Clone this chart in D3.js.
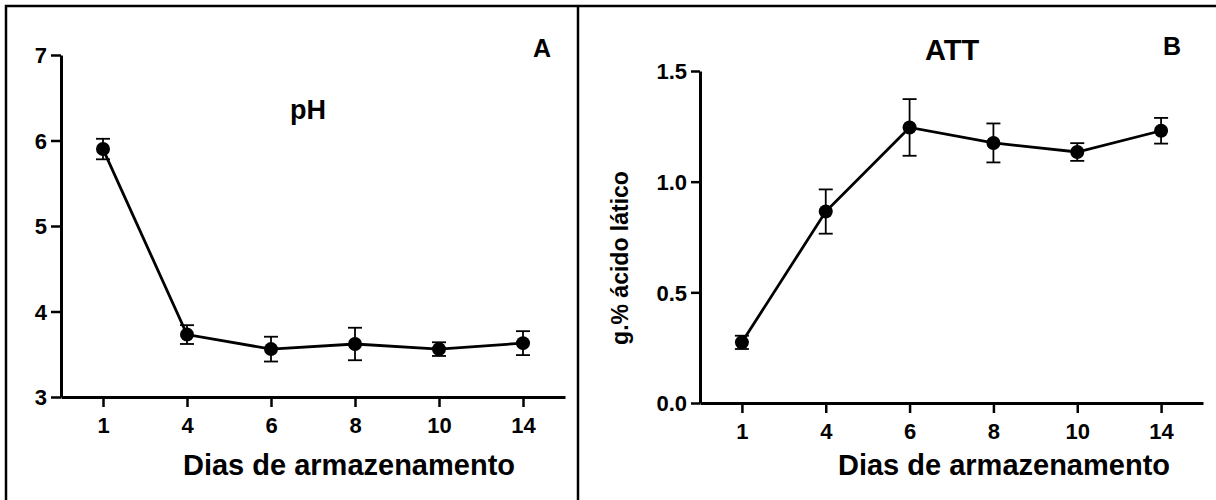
<!DOCTYPE html>
<html>
<head>
<meta charset="utf-8">
<script src="https://cdn.jsdelivr.net/npm/d3@7"></script>
<style>
  html, body { margin: 0; padding: 0; background: #fff; }
  svg { display: block; }
  text { font-family: "Liberation Sans", Arial, sans-serif; font-weight: bold; fill: #000; }
</style>
</head>
<body>
<script>
// Storage days (categorical x axis, evenly spaced)
const days = ["1", "4", "6", "8", "10", "14"];

// Panel A: pH (mean and error)
const phMean = [5.90, 3.73, 3.56, 3.62, 3.56, 3.63];
const phErr  = [0.12, 0.11, 0.145, 0.19, 0.08, 0.14];
const phTicks = [3, 4, 5, 6, 7];

// Panel B: titratable acidity, g.% lactic acid (mean and error)
const attMean = [0.274, 0.865, 1.245, 1.175, 1.134, 1.23];
const attErr  = [0.03, 0.10, 0.128, 0.088, 0.04, 0.058];
const attTicks = [0.0, 0.5, 1.0, 1.5];

const W = 1216, H = 500;
const svg = d3.select("body").append("svg").attr("width", W).attr("height", H);

// Outer frame and panel divider
svg.append("path")
  .attr("d", "M6,500 L6,6 L1216,6")
  .attr("fill", "none").attr("stroke", "#000").attr("stroke-width", 2.5);
svg.append("line")
  .attr("x1", 578).attr("x2", 578).attr("y1", 6).attr("y2", 500)
  .attr("stroke", "#000").attr("stroke-width", 2.5);

function panel(opt) {
  const g = svg.append("g");
  const x = d3.scalePoint().domain(days).range([opt.x0, opt.x1]).padding(0.5);
  const y = d3.scaleLinear().domain(opt.yDomain).range([opt.yBottom, opt.yTop]);

  // y axis
  const yAxis = d3.axisLeft(y).tickValues(opt.yTicks).tickFormat(opt.fmt)
    .tickSizeInner(opt.yTick).tickSizeOuter(0).tickPadding(4);
  const ya = g.append("g").attr("transform", `translate(${opt.x0},0)`).call(yAxis);
  ya.select(".domain").attr("stroke-width", 3);
  ya.selectAll(".tick line").attr("stroke-width", 2.5);
  ya.selectAll(".tick text").attr("font-size", 22).attr("dy", "0.36em")
    .style("font-family", "'Liberation Sans', Arial, sans-serif").style("font-weight", "bold");

  // x axis
  const xAxis = d3.axisBottom(x).tickSizeInner(10).tickSizeOuter(0).tickPadding(10);
  const xa = g.append("g").attr("transform", `translate(0,${opt.yBottom})`).call(xAxis);
  xa.select(".domain").attr("stroke-width", 3);
  xa.selectAll(".tick line").attr("stroke-width", 2.5);
  xa.selectAll(".tick text").attr("font-size", 22)
    .style("font-family", "'Liberation Sans', Arial, sans-serif").style("font-weight", "bold");

  const pts = days.map((d, i) => ({ d, m: opt.mean[i], e: opt.err[i] }));

  // error bars
  const eb = g.append("g").attr("stroke", "#000").attr("stroke-width", 1.8);
  pts.forEach(p => {
    const cx = x(p.d);
    eb.append("line").attr("x1", cx).attr("x2", cx)
      .attr("y1", y(p.m - p.e)).attr("y2", y(p.m + p.e));
    [p.m - p.e, p.m + p.e].forEach(v => {
      eb.append("line").attr("x1", cx - 7).attr("x2", cx + 7)
        .attr("y1", y(v)).attr("y2", y(v));
    });
  });

  // connecting line
  g.append("path").datum(pts)
    .attr("fill", "none").attr("stroke", "#000").attr("stroke-width", 2.8)
    .attr("d", d3.line().x(p => x(p.d)).y(p => y(p.m)));

  // markers
  g.selectAll("circle.pt").data(pts).join("circle")
    .attr("class", "pt")
    .attr("cx", p => x(p.d)).attr("cy", p => y(p.m)).attr("r", 7)
    .attr("fill", "#000");

  // texts
  g.append("text").attr("x", opt.titleX).attr("y", opt.titleY)
    .attr("text-anchor", "middle").attr("font-size", opt.titleSize).text(opt.title);
  g.append("text").attr("x", opt.letterX).attr("y", opt.letterY)
    .attr("text-anchor", "middle").attr("font-size", 25).text(opt.letter);
  g.append("text").attr("x", opt.xLabelX).attr("y", 475)
    .attr("text-anchor", "middle").attr("font-size", 29).text("Dias de armazenamento");
  if (opt.yLabel) {
    g.append("text")
      .attr("transform", `translate(${opt.yLabelX},${opt.yLabelY}) rotate(-90)`)
      .attr("text-anchor", "middle").attr("font-size", 23).text(opt.yLabel);
  }
}

panel({
  x0: 61, x1: 565, yTop: 55, yBottom: 397, yDomain: [3, 7], yTicks: phTicks,
  yTick: 10, fmt: d3.format("d"), mean: phMean, err: phErr,
  title: "pH", titleX: 308, titleY: 119, titleSize: 27,
  letter: "A", letterX: 542, letterY: 57, xLabelX: 349
});

panel({
  x0: 700, x1: 1203, yTop: 71, yBottom: 403, yDomain: [0, 1.5], yTicks: attTicks,
  yTick: 9, fmt: d3.format(".1f"), mean: attMean, err: attErr,
  title: "ATT", titleX: 952, titleY: 60, titleSize: 29,
  letter: "B", letterX: 1172, letterY: 55, xLabelX: 1004,
  yLabel: "g.% ácido lático", yLabelX: 628, yLabelY: 258
});
</script>
</body>
</html>
